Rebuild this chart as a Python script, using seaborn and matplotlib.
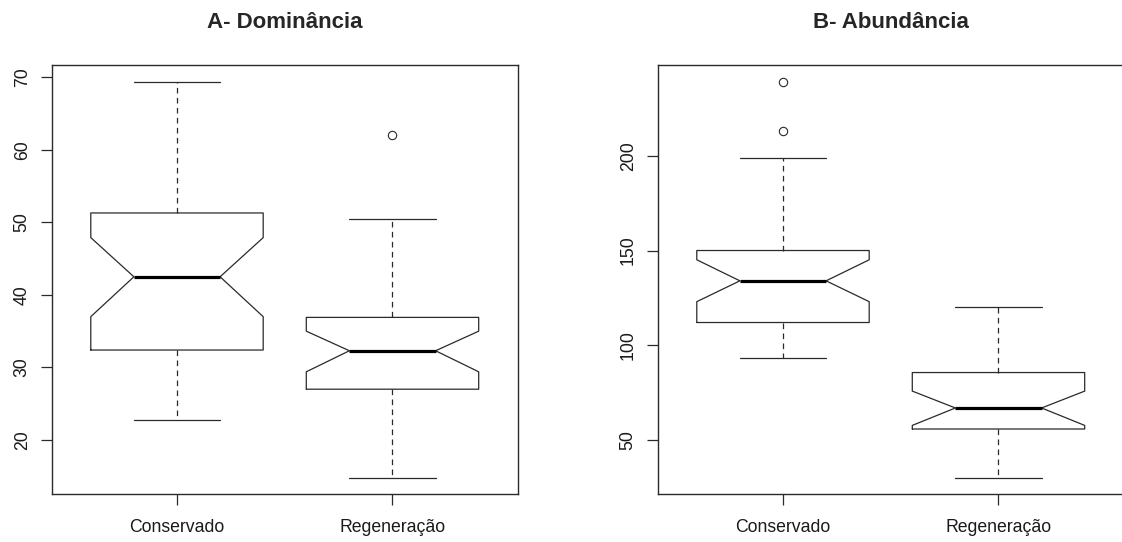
import matplotlib
matplotlib.use("Agg")
import matplotlib.pyplot as plt
import seaborn as sns
import numpy as np

# ---- data ----
groups = ["Conservado", "Regeneração"]

titleA = "A- Dominância"
a_whislo = [22.8, 14.8]
a_q1 = [32.4, 27.0]
a_med = [42.5, 32.3]
a_q3 = [51.3, 36.9]
a_whishi = [69.4, 50.5]
a_cilo = [37.0, 29.4]
a_cihi = [47.9, 35.0]
a_fliers = [[], [62.0]]
a_yticks = [20, 30, 40, 50, 60, 70]

titleB = "B- Abundância"
b_whislo = [93.3, 30.1]
b_q1 = [112.0, 55.8]
b_med = [134.0, 66.9]
b_q3 = [150.0, 85.6]
b_whishi = [198.9, 120.2]
b_cilo = [123.0, 57.7]
b_cihi = [145.1, 75.8]
b_fliers = [[238.9, 213.2], []]
b_yticks = [50, 100, 150, 200]

sns.set_theme(style="white")
plt.rcParams["font.family"] = ["Liberation Sans", "DejaVu Sans"]

W, H = 1122, 542
PX_PER_UNIT = 215.5
fig = plt.figure(figsize=(W / 100, H / 100), dpi=100)
ax1 = fig.add_axes([52 / W, 48 / H, 466 / W, 429 / H])
ax2 = fig.add_axes([658 / W, 48 / H, 470 / W, 429 / H])

LC = "#2a2a2a"


def draw(ax, title, whislo, q1, med, q3, whishi, cilo, cihi, fliers, yticks,
         ylim, xmax):
    stats = []
    for i, g in enumerate(groups):
        stats.append(dict(label=g, med=med[i], q1=q1[i], q3=q3[i],
                          whislo=whislo[i], whishi=whishi[i],
                          cilo=cilo[i], cihi=cihi[i],
                          fliers=np.array(fliers[i], dtype=float)))
    ax.bxp(stats, positions=[1, 2], widths=0.8, shownotches=True,
           boxprops=dict(color=LC, linewidth=0.9),
           medianprops=dict(color="black", linewidth=2.3, solid_capstyle="butt"),
           whiskerprops=dict(color=LC, linewidth=0.9, linestyle=(0, (4.5, 3.5))),
           capprops=dict(color=LC, linewidth=0.9),
           flierprops=dict(marker="o", markerfacecolor="none",
                           markeredgecolor=LC, markersize=6, markeredgewidth=0.8))
    ax.set_xlim(0.42, xmax)
    ax.set_ylim(*ylim)
    ax.set_yticks(yticks)
    ax.set_xticks([1, 2])
    ax.set_xticklabels(groups)
    for s in ax.spines.values():
        s.set_color(LC)
        s.set_linewidth(1.0)
    ax.tick_params(axis="both", which="major", left=True, bottom=True,
                   length=8, width=0.9, color=LC, labelsize=12.7,
                   labelcolor="#1a1a1a", direction="out")
    ax.tick_params(axis="x", pad=10)
    ax.tick_params(axis="y", pad=7.3)
    plt.setp(ax.get_yticklabels(), rotation=90, va="center")
    ax.set_title(title, fontsize=16, fontweight="bold", pad=26.5)
    ax.grid(False)


draw(ax1, titleA, a_whislo, a_q1, a_med, a_q3, a_whishi, a_cilo, a_cihi,
     a_fliers, a_yticks, (12.55, 71.7), 0.42 + 466 / PX_PER_UNIT)
draw(ax2, titleB, b_whislo, b_q1, b_med, b_q3, b_whishi, b_cilo, b_cihi,
     b_fliers, b_yticks, (21.5, 247.9), 0.42 + 470 / PX_PER_UNIT)
ax2.title.set_x(465 / 2 / 470)

fig.savefig("out.png", dpi=100, facecolor="white")
